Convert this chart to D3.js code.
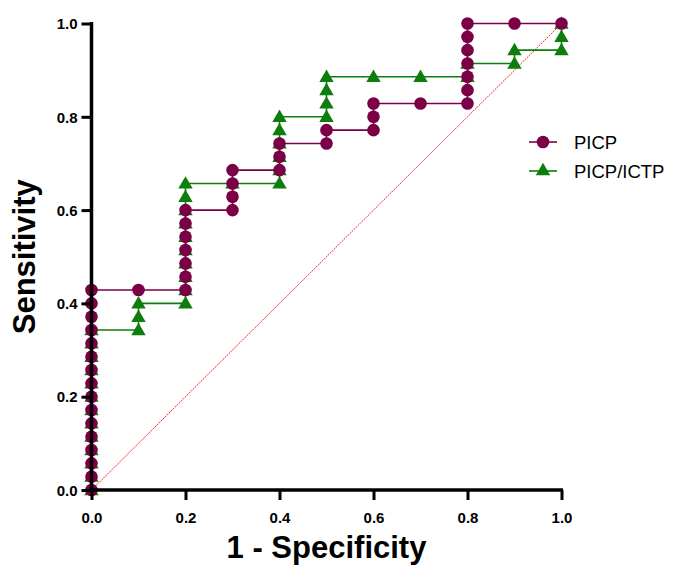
<!DOCTYPE html>
<html><head><meta charset="utf-8">
<script src="https://cdn.jsdelivr.net/npm/d3@7"></script>
<style>body{margin:0;background:#fff}svg{display:block}</style>
</head><body>
<svg id="c" width="691" height="566"></svg>
<script>
// 1 - Specificity (x) and Sensitivity (y) for each ROC point, in drawing order
const picpX = [0,0,0,0,0,0,0,0,0,0,0,0,0,0,0,0, 0.1, 0.2,0.2,0.2,0.2,0.2,0.2,0.2, 0.3,0.3,0.3,0.3, 0.4,0.4,0.4, 0.5,0.5, 0.6,0.6,0.6, 0.7, 0.8,0.8,0.8,0.8,0.8,0.8,0.8, 0.9, 1.0];
const picpY = [0,0.0286,0.0571,0.0857,0.1143,0.1429,0.1714,0.2,0.2286,0.2571,0.2857,0.3143,0.3429,0.3714,0.4,0.4286,
  0.4286, 0.4286,0.4571,0.4857,0.5143,0.5429,0.5714,0.6, 0.6,0.6286,0.6571,0.6857, 0.6857,0.7143,0.7429, 0.7429,0.7714,
  0.7714,0.8,0.8286, 0.8286, 0.8286,0.8571,0.8857,0.9143,0.9429,0.9714,1.0, 1.0, 1.0];
const ratioX = [0,0,0,0,0,0,0,0,0,0,0,0,0, 0.1,0.1,0.1, 0.2,0.2,0.2,0.2,0.2,0.2,0.2,0.2,0.2,0.2, 0.3, 0.4,0.4,0.4,0.4,0.4,0.4, 0.5,0.5,0.5,0.5, 0.6, 0.7, 0.8,0.8, 0.9,0.9, 1.0,1.0,1.0];
const ratioY = [0,0.0286,0.0571,0.0857,0.1143,0.1429,0.1714,0.2,0.2286,0.2571,0.2857,0.3143,0.3429,
  0.3429,0.3714,0.4, 0.4,0.4286,0.4571,0.4857,0.5143,0.5429,0.5714,0.6,0.6286,0.6571, 0.6571,
  0.6571,0.6857,0.7143,0.7429,0.7714,0.8, 0.8,0.8286,0.8571,0.8857, 0.8857, 0.8857, 0.8857,0.9143, 0.9143,0.9429, 0.9429,0.9714,1.0];
const ticks = [0,0.2,0.4,0.6,0.8,1.0];
const seriesNames = ["PICP","PICP/ICTP"];
const colors = ["#7b0046","#0d7d0d"];

const svg = d3.select("#c");
const x = d3.scaleLinear().domain([0,1]).range([91.5,561.5]);
const y = d3.scaleLinear().domain([0,1]).range([490,23.5]);
const FONT = "Liberation Sans, Arial, sans-serif";

// reference diagonal
svg.append("line").attr("x1",x(0)).attr("y1",y(0)).attr("x2",x(1)).attr("y2",y(1))
  .attr("stroke","#ff2a2a").attr("stroke-width",1).attr("stroke-dasharray","2,0.8");

const line = d3.line().x(d=>x(d[0])).y(d=>y(d[1]));
const picp = picpX.map((v,i)=>[v,picpY[i]]);
const ratio = ratioX.map((v,i)=>[v,ratioY[i]]);
const tri = d3.symbol().type(d3.symbolTriangle).size(90);

function drawSeries(data, col, kind){
  svg.append("path").attr("d",line(data)).attr("fill","none").attr("stroke",col).attr("stroke-width",1.6);
  const g = svg.append("g");
  data.forEach(d=>{
    if(kind==="c") g.append("circle").attr("cx",x(d[0])).attr("cy",y(d[1])).attr("r",6.3).attr("fill",col);
    else g.append("path").attr("d",tri).attr("transform",`translate(${x(d[0])},${y(d[1])+1})`).attr("fill",col);
  });
}
drawSeries(ratio, colors[1], "t");
drawSeries(picp, colors[0], "c");

// axes
const xa = svg.append("g").attr("transform",`translate(0,${y(0)})`)
  .call(d3.axisBottom(x).tickValues(ticks).tickFormat(d3.format(".1f")).tickSize(10).tickSizeOuter(0));
const ya = svg.append("g").attr("transform",`translate(${x(0)},0)`)
  .call(d3.axisLeft(y).tickValues(ticks).tickFormat(d3.format(".1f")).tickSize(10).tickSizeOuter(0));
[xa,ya].forEach(a=>{
  a.select(".domain").attr("stroke","#000").attr("stroke-width",3.5);
  a.selectAll(".tick line").attr("stroke","#000").attr("stroke-width",3);
  a.selectAll(".tick text").attr("font-family",FONT)
    .attr("font-weight","bold").attr("font-size",15).attr("fill","#000");
});
xa.select(".domain").attr("d",`M${x(0)-1.75},0H${x(1)+1.5}`);
ya.select(".domain").attr("d",`M0,${y(0)+1.75}V${y(1)-1.5}`);
xa.selectAll(".tick text").attr("dy","1.3em");
ya.selectAll(".tick text").attr("x",-14).attr("dy","0.35em");

svg.append("text").attr("x",(x(0)+x(1))/2).attr("y",558).attr("text-anchor","middle")
  .attr("font-family",FONT).attr("font-weight","bold").attr("font-size",31)
  .text("1 - Specificity");
svg.append("text").attr("transform",`translate(35,${(y(0)+y(1))/2}) rotate(-90)`).attr("text-anchor","middle")
  .attr("font-family",FONT).attr("font-weight","bold").attr("font-size",31)
  .text("Sensitivity");

// legend
const leg = svg.append("g");
seriesNames.forEach((n,i)=>{
  const ly = 142 + i*29;
  leg.append("line").attr("x1",529).attr("x2",557).attr("y1",ly).attr("y2",ly).attr("stroke",colors[i]).attr("stroke-width",1.6);
  if(i===0) leg.append("circle").attr("cx",543).attr("cy",ly).attr("r",6.3).attr("fill",colors[i]);
  else leg.append("path").attr("d",tri).attr("transform",`translate(543,${ly})`).attr("fill",colors[i]);
  leg.append("text").attr("x",574).attr("y",ly).attr("dy","0.36em")
    .attr("font-family",FONT).attr("font-size",18.5).attr("fill","#000").text(n);
});
</script>
</body></html>
